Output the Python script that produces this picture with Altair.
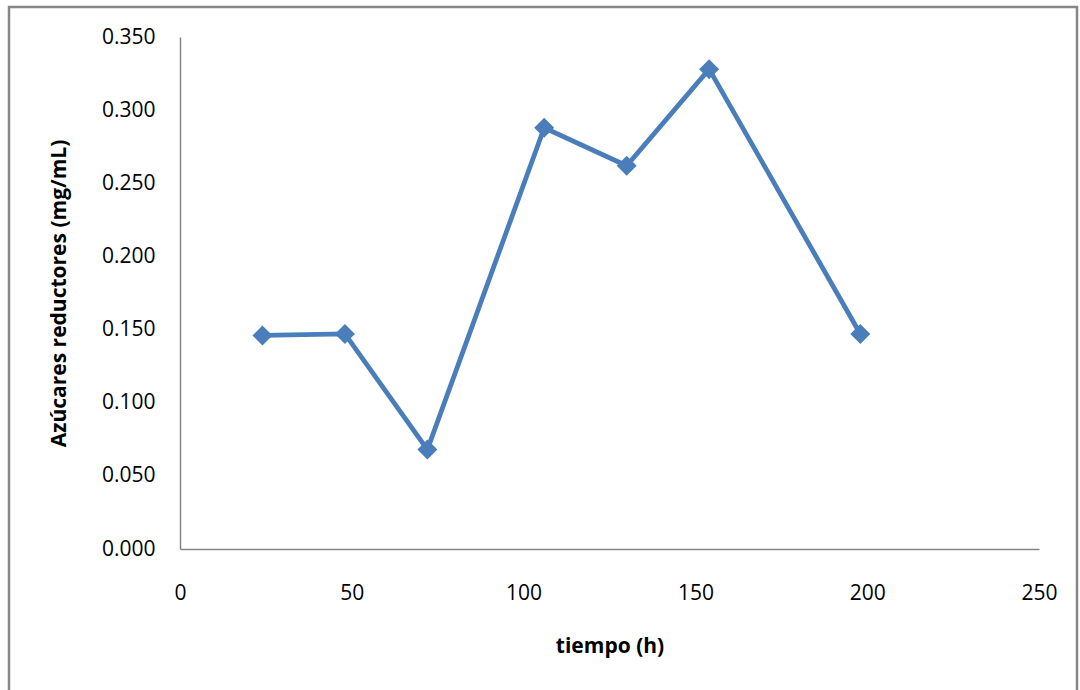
import altair as alt
import pandas as pd

tiempo = [24, 48, 72, 106, 130, 154, 198]
azucares = [0.146, 0.147, 0.068, 0.288, 0.262, 0.328, 0.147]

df = pd.DataFrame({"tiempo": tiempo, "azucares": azucares})

FONT = "Open Sans"

base = alt.Chart(df)

line = base.mark_line(color="#4a7ebb", strokeWidth=4.8).encode(
    x=alt.X("tiempo:Q",
            scale=alt.Scale(domain=[0, 250], nice=False, zero=True),
            axis=alt.Axis(title="tiempo (h)", values=[0, 50, 100, 150, 200, 250],
                          grid=False, ticks=False, domainColor="#868686", domainWidth=1.5,
                          labelFont=FONT, labelFontSize=21, labelColor="#000000",
                          labelPadding=33, labelFlush=False,
                          titleFont=FONT, titleFontSize=21, titleFontWeight="bold",
                          titleColor="#000000", titlePadding=32)),
    y=alt.Y("azucares:Q",
            scale=alt.Scale(domain=[0, 0.35], nice=False),
            axis=alt.Axis(title="Azúcares reductores (mg/mL)", format=".3f",
                          values=[0, 0.05, 0.1, 0.15, 0.2, 0.25, 0.3, 0.35],
                          grid=False, ticks=False, domainColor="#868686", domainWidth=1.5,
                          labelFont=FONT, labelFontSize=21, labelColor="#000000",
                          labelPadding=25, labelFlush=False,
                          titleFont=FONT, titleFontSize=21, titleFontWeight="bold",
                          titleColor="#000000", titlePadding=32)),
)

points = base.mark_point(shape="diamond", filled=True, size=400, color="#4a7ebb", opacity=1).encode(
    x="tiempo:Q", y="azucares:Q"
)

border = alt.Chart(pd.DataFrame({"a": [0]})).mark_rect(
    fill=None, stroke="#868686", strokeWidth=2.5, clip=False
).encode(
    x=alt.value(-171), x2=alt.value(897), y=alt.value(-30), y2=alt.value(700)
)

chart = alt.layer(border, line, points).properties(
    width=859, height=512,
    autosize=alt.AutoSizeParams(type="none"),
    padding={"left": 180, "top": 37, "right": 41, "bottom": 141},
    background="#ffffff",
).configure_view(stroke=None)

chart.save("out.html", embed_options={"renderer": "svg", "actions": False})
